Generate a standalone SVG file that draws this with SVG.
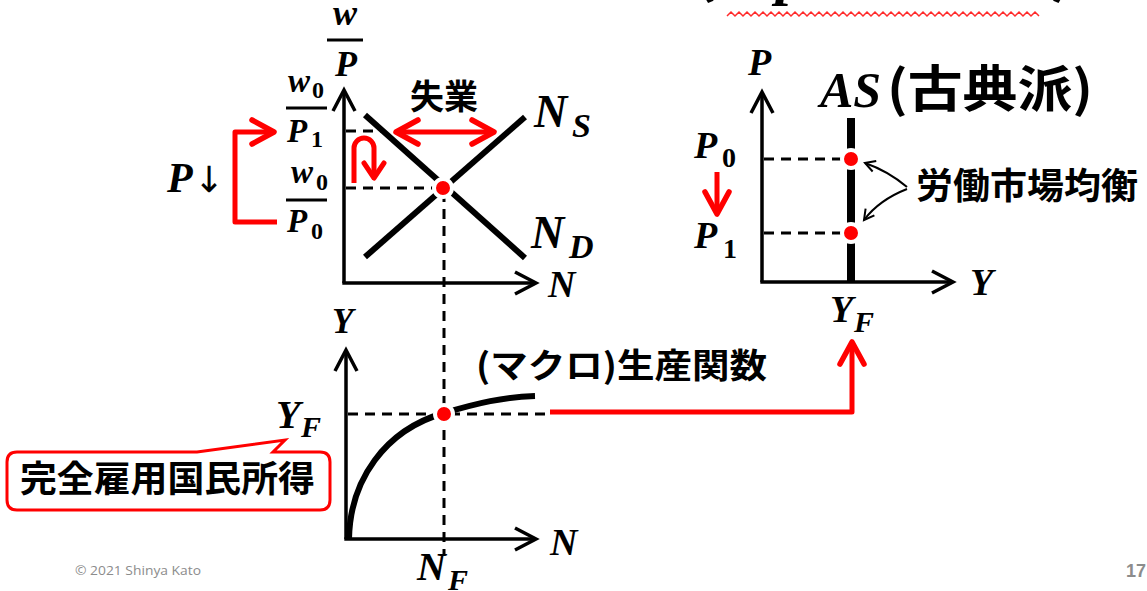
<svg xmlns="http://www.w3.org/2000/svg" width="1147" height="591" viewBox="0 0 1147 591">
<defs>
<style>
.bg{fill:#ffffff}
.m{font-family:"Liberation Serif","DejaVu Serif",serif;font-weight:bold;font-style:italic;fill:#000}
.s{font-family:"Liberation Serif","DejaVu Serif",serif;font-weight:bold;font-style:normal;fill:#000}
.j2{font-family:"Noto Sans CJK JP",sans-serif;font-weight:bold;fill:#000}
.axis{fill:none;stroke:#000;stroke-width:3.5}
.curve{fill:none;stroke:#000;stroke-width:6}
.dash{fill:none;stroke:#000;stroke-width:3;stroke-dasharray:10 7}
.red{fill:none;stroke:#ff0000;stroke-width:5;stroke-linejoin:round}
.thin{fill:none;stroke:#000;stroke-width:2}
.dot{fill:#ff0000;stroke:#ffffff;stroke-width:4}
.bar{stroke:#000;stroke-width:3}
</style>
<marker id="axHead" markerUnits="userSpaceOnUse" viewBox="-24 -14 28 28" refX="0" refY="0" markerWidth="28" markerHeight="28" orient="auto" overflow="visible">
<path d="M-21,-11 L0,0 L-21,11" fill="none" stroke="#000" stroke-width="3.5"/>
</marker>
<marker id="redHead" markerUnits="userSpaceOnUse" viewBox="-26 -14 30 28" refX="0" refY="0" markerWidth="30" markerHeight="28" orient="auto-start-reverse" overflow="visible">
<path d="M-22,-12 L0,0 L-22,12" fill="none" stroke="#ff0000" stroke-width="5.5" stroke-linecap="round" stroke-linejoin="round"/>
</marker>
<marker id="redSmall" markerUnits="userSpaceOnUse" viewBox="-18 -12 22 24" refX="0" refY="0" markerWidth="22" markerHeight="24" orient="auto" overflow="visible">
<path d="M-15,-10 L0,0 L-15,10" fill="none" stroke="#ff0000" stroke-width="5" stroke-linecap="round" stroke-linejoin="round"/>
</marker>
<marker id="thinHead" markerUnits="userSpaceOnUse" viewBox="-12 -8 14 16" refX="0" refY="0" markerWidth="14" markerHeight="16" orient="auto" overflow="visible">
<path d="M-10,-5.5 L0,0 L-10,5.5" fill="none" stroke="#000" stroke-width="2"/>
</marker>
</defs>
<rect class="bg" x="0" y="0" width="1147" height="591"/>

<g id="title-fragment">
<text class="j2" x="694" y="-9" font-size="60">(</text>
<text class="m" x="776" y="-7" font-size="60">p</text>
<text class="j2" x="1050" y="-9" font-size="60">)</text>
<path d="M727 16 l4 -4 4 4 4 -4 4 4 4 -4 4 4 4 -4 4 4 4 -4 4 4 4 -4 4 4 4 -4 4 4 4 -4 4 4 4 -4 4 4 4 -4 4 4 4 -4 4 4 4 -4 4 4 4 -4 4 4 4 -4 4 4 4 -4 4 4 4 -4 4 4 4 -4 4 4 4 -4 4 4 4 -4 4 4 4 -4 4 4 4 -4 4 4 4 -4 4 4 4 -4 4 4 4 -4 4 4 4 -4 4 4 4 -4 4 4 4 -4 4 4 4 -4 4 4 4 -4 4 4 4 -4 4 4 4 -4 4 4 4 -4 4 4 4 -4 4 4 4 -4 4 4 4 -4 4 4 4 -4 4 4 4 -4 4 4 4 -4 4 4 4 -4 4 4" fill="none" stroke="#ff2a2a" stroke-width="1.5"/>
</g>

<g id="connectors">
<path class="dash" d="M444,192 V556"/>
<path class="dash" d="M346,188 H436"/>
<path class="dash" d="M346,131 H382"/>
<path class="dash" d="M348,414 H548"/>
<path class="dash" d="M764,159 H846"/>
<path class="dash" d="M764,233 H846"/>
<path class="red" d="M277,222 H235 V132 H274" marker-end="url(#redHead)"/>
<path class="red" d="M354,183 V148 A10,10 0 0 1 374,148 V178" marker-end="url(#redSmall)"/>
<path class="red" d="M396,132 H494" marker-start="url(#redHead)" marker-end="url(#redHead)"/>
<path class="red" d="M717,172 V214" stroke-width="6" marker-end="url(#redHead)"/>
<path class="red" d="M550,412 H852 V342" stroke-width="6" marker-end="url(#redHead)"/>
<path class="thin" d="M907,187 Q888,171 865,163" marker-end="url(#thinHead)"/>
<path class="thin" d="M907,189 Q879,200 864,220" marker-end="url(#thinHead)"/>
</g>

<g id="labor-market">
<path class="axis" d="M344,283 V90" marker-end="url(#axHead)"/>
<path class="axis" d="M342.3,283 H536" marker-end="url(#axHead)"/>
<line class="curve" x1="365" y1="115" x2="525" y2="258"/>
<line class="curve" x1="365" y1="257" x2="525" y2="117"/>
<circle class="dot" cx="443" cy="188" r="9"/>
<text class="m" x="345" y="25" font-size="36" text-anchor="middle">w</text>
<line class="bar" x1="327" y1="40" x2="363" y2="40"/>
<text class="m" x="346" y="76" font-size="36" text-anchor="middle">P</text>
<text class="m" x="288" y="92" font-size="33">w</text>
<text class="s" x="312" y="98" font-size="24">0</text>
<line class="bar" x1="286" y1="108" x2="327" y2="108"/>
<text class="m" x="287" y="142" font-size="33">P</text>
<text class="s" x="311" y="147" font-size="24">1</text>
<text class="m" x="291" y="183" font-size="33">w</text>
<text class="s" x="316" y="190" font-size="24">0</text>
<line class="bar" x1="286" y1="200" x2="327" y2="200"/>
<text class="m" x="287" y="232" font-size="33">P</text>
<text class="s" x="311" y="239" font-size="24">0</text>
<text class="m" x="167" y="192" font-size="42">P<tspan font-family="'DejaVu Sans',sans-serif" font-style="normal" font-weight="normal" font-size="36" dx="1">↓</tspan></text>
<text class="j2" x="444" y="109" font-size="34" text-anchor="middle">失業</text>
<text class="m" x="534" y="127" font-size="46">N</text>
<text class="m" x="572" y="137" font-size="34">S</text>
<text class="m" x="531" y="248" font-size="46">N</text>
<text class="m" x="569" y="258" font-size="34">D</text>
<text class="m" x="548" y="297" font-size="38">N</text>
</g>

<g id="aggregate-supply">
<path class="axis" d="M762,282 V92" marker-end="url(#axHead)"/>
<path class="axis" d="M760.3,282 H953" marker-end="url(#axHead)"/>
<line x1="851" y1="118" x2="851" y2="282" stroke="#000" stroke-width="8"/>
<circle class="dot" cx="851" cy="159" r="9"/>
<circle class="dot" cx="851" cy="233" r="9"/>
<text class="m" x="748" y="75" font-size="38">P</text>
<text class="m" x="820" y="107" font-size="50">AS</text>
<text class="j2" x="887" y="107" font-size="50" textLength="206" lengthAdjust="spacingAndGlyphs">(古典派)</text>
<text class="m" x="694" y="158" font-size="38">P</text>
<text class="s" x="722" y="167" font-size="28">0</text>
<text class="m" x="694" y="248" font-size="38">P</text>
<text class="s" x="723" y="258" font-size="28">1</text>
<text class="m" x="970" y="295" font-size="38">Y</text>
<text class="m" x="830" y="322" font-size="38">Y</text>
<text class="m" x="854" y="332" font-size="30">F</text>
<text class="j2" x="916" y="199" font-size="36" textLength="222" lengthAdjust="spacingAndGlyphs">労働市場均衡</text>
</g>

<g id="production-function">
<path class="axis" d="M346,539 V350" marker-end="url(#axHead)"/>
<path class="axis" d="M344.3,539 H536" marker-end="url(#axHead)"/>
<path class="curve" d="M349,539 C350,480 385,430 444,413 C478,403 503,397 535,396"/>
<circle class="dot" cx="444" cy="414" r="9"/>
<text class="m" x="332" y="333" font-size="35">Y</text>
<text class="m" x="276" y="428" font-size="40">Y</text>
<text class="m" x="301" y="437" font-size="30">F</text>
<text class="m" x="550" y="555" font-size="38">N</text>
<text class="m" x="417" y="580" font-size="40">N</text>
<text class="m" x="448" y="590" font-size="30">F</text>
<text class="j2" x="476" y="378" font-size="34" textLength="291" lengthAdjust="spacingAndGlyphs">(マクロ)生産関数</text>
</g>

<g id="callout-full-employment">
<path d="M17,452 H197 L285,440 L273,452 H320 Q330,452 330,462 V500 Q330,510 320,510 H17 Q7,510 7,500 V462 Q7,452 17,452 Z" fill="#fff" stroke="#ff0000" stroke-width="3"/>
<text class="j2" x="20" y="492" font-size="36" textLength="295" lengthAdjust="spacingAndGlyphs">完全雇用国民所得</text>
</g>

<g id="footer">
<text x="75" y="575" font-family="'Open Sans','Liberation Sans',sans-serif" font-size="13.5" fill="#8c8c8c" textLength="126" lengthAdjust="spacingAndGlyphs">© 2021 Shinya Kato</text>
<text x="1126" y="577" font-family="'Liberation Sans',sans-serif" font-weight="bold" font-size="18" fill="#8c8c8c">17</text>
</g>
</svg>
